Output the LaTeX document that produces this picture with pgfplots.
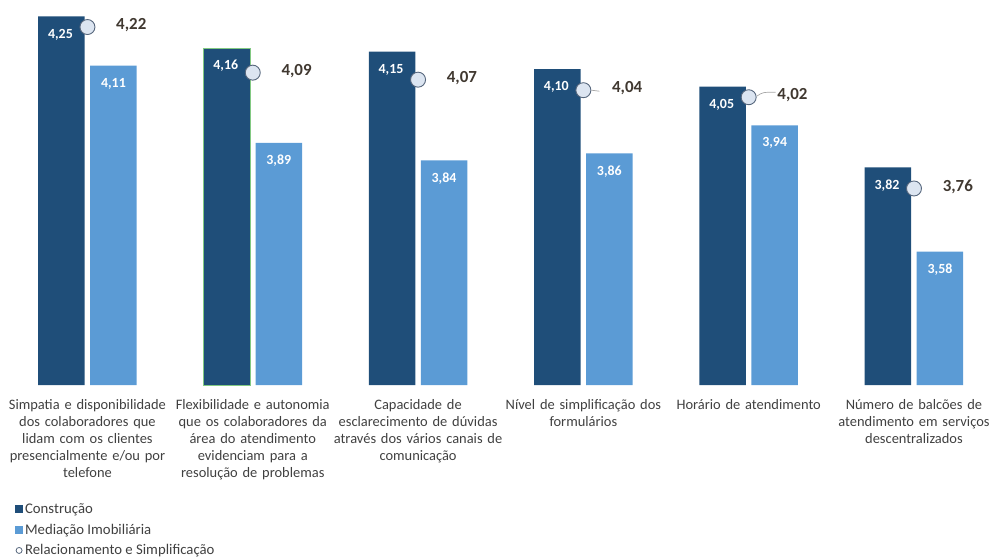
\documentclass[border=0pt]{standalone}
\usepackage{pgfplots}
\pgfplotsset{compat=1.18}
\usepackage{fontspec}
\setmainfont{Carlito}
\definecolor{cDark}{HTML}{1F4E79}
\definecolor{cLight}{HTML}{5B9BD5}
\definecolor{cCircF}{HTML}{DCE5F1}
\definecolor{cCircD}{HTML}{56667C}
\definecolor{cTxt}{HTML}{404040}
\definecolor{cRel}{HTML}{403830}
\begin{document}
\begin{tikzpicture}
\begin{axis}[
  at={(0,0)}, anchor=north west,
  scale only axis, width=993bp, height=385bp,
  xmin=-0.529, xmax=5.478, ymin=3.2, ymax=4.297,
  axis line style={draw=none},
  ytick=\empty,
  xtick={0,1,2,3,4,5},
  xticklabels={
    {Simpatia e disponibilidade\\dos colaboradores que\\lidam com os clientes\\presencialmente e/ou por\\telefone},
    {Flexibilidade e autonomia\\que os colaboradores da\\área do atendimento\\evidenciam para a\\resolução de problemas},
    {Capacidade de\\esclarecimento de dúvidas\\através dos vários canais de\\comunicação},
    {Nível de simplificação dos\\formulários},
    {Horário de atendimento},
    {Número de balcões de\\atendimento em serviços\\descentralizados}},
  xticklabel style={text width=185bp, align=center, font=\fontsize{14.5}{17}\selectfont, text=cTxt, yshift=-11bp},
  major tick length=0pt,
  /pgf/number format/.cd, use comma, fixed, fixed zerofill, precision=2, assume math mode=true,
  /pgfplots/.cd,
  clip mode=individual,
  legend style={at={(0.012,-0.297)}, anchor=north west, draw=none, fill=none,
    font=\fontsize{14.8}{14.8}\selectfont, text=cTxt, row sep=5bp,
    /tikz/every even column/.append style={column sep=4bp}},
  legend cell align=left,
]
\addplot[ybar, bar width=46.5bp, bar shift=-26bp, fill=cDark, draw=none,
  legend image code/.code={\fill[cDark] (1bp,-4bp) rectangle (9bp,4bp);},
  nodes near coords,
  every node near coord/.append style={font=\bfseries\fontsize{14}{14}\selectfont, text=white, anchor=center, xshift=-27bp, yshift=-18bp}]
  coordinates {(0,4.25) (1,4.16) (2,4.15) (3,4.10) (4,4.05) (5,3.82)};
\addlegendentry{Construção}
\addplot[ybar, bar width=46.5bp, bar shift=26bp, fill=cLight, draw=none,
  legend image code/.code={\fill[cLight] (1bp,-4bp) rectangle (9bp,4bp);},
  nodes near coords,
  every node near coord/.append style={font=\bfseries\fontsize{14}{14}\selectfont, text=white, anchor=center, xshift=26bp, yshift=-18bp}]
  coordinates {(0,4.11) (1,3.89) (2,3.84) (3,3.86) (4,3.94) (5,3.58)};
\addlegendentry{Mediação Imobiliária}
\addplot[ybar, bar width=46.5bp, bar shift=-26bp, fill=none, draw=green!40!gray!70, line width=0.6pt, forget plot]
  coordinates {(1,4.16)};
\addplot[only marks, mark=*, mark size=7.5bp,
  mark options={fill=cCircF, draw=cCircD, line width=0.9pt},
  legend image code/.code={\draw[cCircD, line width=0.8pt] (5bp,0bp) circle (3bp);},
  nodes near coords,
  every node near coord/.append style={font=\bfseries\fontsize{17}{17}\selectfont, text=cRel, anchor=west, xshift=25bp, yshift=2bp}]
  coordinates {(0,4.22) (1,4.09) (2,4.07) (3,4.04) (4,4.02) (5,3.76)};
\addlegendentry{Relacionamento e Simplificação}
\draw[gray!70, line width=0.7pt] ([xshift=8bp]axis cs:3,4.04) -- ([xshift=16bp,yshift=-1bp]axis cs:3,4.04);
\draw[gray!70, line width=0.7pt] ([xshift=8bp,yshift=1bp]axis cs:4,4.02) .. controls ([xshift=14bp,yshift=5bp]axis cs:4,4.02) .. ([xshift=27bp,yshift=5bp]axis cs:4,4.02);
\end{axis}
\pgfresetboundingbox
\path[use as bounding box] (0,0) rectangle (993bp,-560bp);
\end{tikzpicture}
\end{document}
